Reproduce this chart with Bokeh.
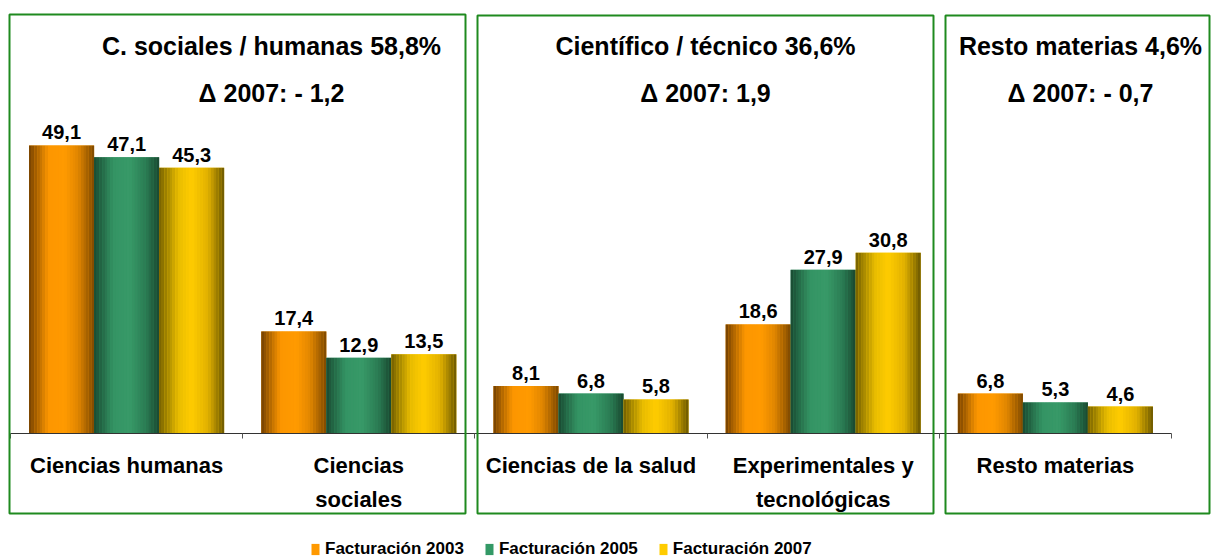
from bokeh.plotting import figure
from bokeh.models import (ColumnDataSource, LinearAxis, FixedTicker, BoxAnnotation,
                          Legend, LegendItem, Range1d)
from bokeh.core.properties import value
from bokeh.embed import file_html
from bokeh.resources import INLINE

# ---------------- data ----------------
categories = ["Ciencias humanas", "Ciencias\nsociales", "Ciencias de la salud",
              "Experimentales y\ntecnológicas", "Resto materias"]
series_names = ["Facturación 2003", "Facturación 2005", "Facturación 2007"]
fact_2003 = [49.1, 17.4, 8.1, 18.6, 6.8]
fact_2005 = [47.1, 12.9, 6.8, 27.9, 5.3]
fact_2007 = [45.3, 13.5, 5.8, 30.8, 4.6]
panel_titles = ["C. sociales / humanas 58,8%", "Científico / técnico 36,6%", "Resto materias 4,6%"]
panel_deltas = ["Δ 2007: - 1,2", "Δ 2007: 1,9", "Δ 2007: - 0,7"]

series = [fact_2003, fact_2005, fact_2007]

# ---------------- layout / style ----------------
W, H = 1212, 559
UNIT = 232.2     # px per category
PPV = 5.866      # px per value unit
X0 = 10          # canvas px of x = 0
BASE = 433       # canvas px of y = 0


def dx(px):
    return (px - X0) / UNIT


def dy(py):
    return (BASE - py) / PPV


FONT = value("Liberation Sans")
BW = 0.28
offsets = [-0.28, 0.0, 0.28]
bright = ["#ff9900", "#339966", "#ffcc00"]
stops = [
    [(0.0, "#744000"), (0.3, "#fc9600"), (0.55, "#ff9a00"), (0.75, "#e08600"), (1.0, "#7d4800")],
    [(0.0, "#194a32"), (0.3, "#349464"), (0.55, "#389a68"), (0.8, "#2a7a52"), (1.0, "#19472f")],
    [(0.0, "#746000"), (0.3, "#e8bc00"), (0.5, "#ffcc00"), (0.75, "#e0b000"), (1.0, "#6b5800")],
]


def hex2rgb(h):
    h = h.lstrip("#")
    return [int(h[i:i + 2], 16) for i in (0, 2, 4)]


def grad(st, t):
    for (t0, c0), (t1, c1) in zip(st[:-1], st[1:]):
        if t0 <= t <= t1:
            f = (t - t0) / (t1 - t0)
            a, b = hex2rgb(c0), hex2rgb(c1)
            return "#%02x%02x%02x" % tuple(int(round(a[i] + (b[i] - a[i]) * f)) for i in range(3))
    return st[-1][1]


p = figure(width=W, height=H,
           x_range=Range1d(dx(0), dx(W)), y_range=Range1d(dy(H), dy(0)),
           output_backend="svg", toolbar_location=None, min_border=0,
           x_axis_type=None, y_axis_type=None, outline_line_color=None,
           background_fill_color="white", border_fill_color="white")

# ---------------- bars ----------------
N = 24
LABEL_GAP = 13 / PPV   # distance (in value units) from bar top to label centre
mains = []
for k, vals in enumerate(series):
    xs = [i + 0.5 + offsets[k] for i in range(len(vals))]
    src = ColumnDataSource(dict(x=xs, top=vals))
    r = p.vbar(x="x", top="top", bottom=0, width=BW, source=src,
               fill_color=bright[k], line_color=None)
    mains.append(r)
    sx, st, sc = [], [], []
    for i, v in enumerate(vals):
        left = xs[i] - BW / 2
        for j in range(N):
            sx.append(left + (j + 0.5) * BW / N)
            st.append(v)
            sc.append(grad(stops[k], (j + 0.5) / N))
    ssrc = ColumnDataSource(dict(x=sx, top=st, c=sc))
    p.vbar(x="x", top="top", bottom=0, width=BW / N * 1.04, source=ssrc,
           fill_color="c", line_color=None)
    # value labels
    lsrc = ColumnDataSource(dict(x=xs, y=[v + LABEL_GAP for v in vals],
                                 t=[f"{v:.1f}".replace(".", ",") for v in vals]))
    p.text(x="x", y="y", text="t", source=lsrc, text_align="center",
           text_baseline="middle", text_font=FONT,
           text_font_style="bold", text_font_size="20px", text_color="black")

# ---------------- axis ----------------
nb = len(categories) + 1
ax = LinearAxis(ticker=FixedTicker(ticks=list(range(nb))),
                fixed_location=0, bounds=(0, len(categories)),
                major_label_overrides={i: "" for i in range(nb)},
                major_label_standoff=0,
                major_tick_in=0, major_tick_out=5,
                minor_tick_line_color=None,
                axis_line_color="#333333", major_tick_line_color="#555555")
p.add_layout(ax, "below")

# category labels
csrc = ColumnDataSource(dict(x=[i + 0.5 for i in range(len(categories))],
                             y=[dy(452)] * len(categories), t=categories))
p.text(x="x", y="y", text="t", source=csrc, text_align="center", text_baseline="top",
       text_line_height=1.36, text_font=FONT, text_font_style="bold",
       text_font_size="22px", text_color="black")

# ---------------- panels ----------------
panel_boxes = [(9, 465, 14, 513), (477, 933, 15, 513), (945, 1209, 15, 513)]
for (l, r_, t, b) in panel_boxes:
    p.add_layout(BoxAnnotation(left=dx(l), right=dx(r_), top=dy(t), bottom=dy(b),
                               fill_alpha=0, line_alpha=1.0,
                               line_color="#1f8a1f", line_width=2))

title_x = [dx(271), dx(705), dx(1080)]
tsrc = ColumnDataSource(dict(x=title_x, y=[dy(45)] * 3, t=panel_titles))
p.text(x="x", y="y", text="t", source=tsrc, text_align="center", text_baseline="middle",
       text_font=FONT, text_font_style="bold", text_font_size="25px", text_color="black")
dsrc = ColumnDataSource(dict(x=title_x, y=[dy(92)] * 3, t=panel_deltas))
p.text(x="x", y="y", text="t", source=dsrc, text_align="center", text_baseline="middle",
       text_font=FONT, text_font_style="bold", text_font_size="25px", text_color="black")

# ---------------- legend ----------------
legend = Legend(items=[LegendItem(label=series_names[k], renderers=[mains[k]]) for k in range(3)],
                orientation="horizontal", location=(310, 0),
                glyph_width=10, glyph_height=14, label_standoff=5, spacing=20,
                padding=0, margin=0, border_line_color=None, background_fill_alpha=0,
                label_text_font="Liberation Sans", label_text_font_style="bold",
                label_text_font_size="17px", label_text_color="black")
p.add_layout(legend)

open("out.html", "w").write(file_html(p, INLINE))
